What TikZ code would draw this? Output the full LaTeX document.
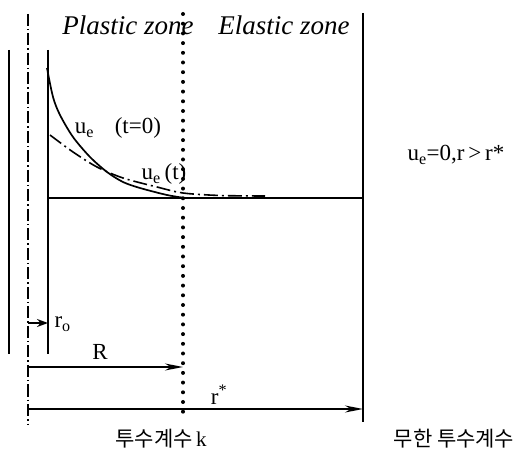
\documentclass[tikz,border=0pt]{standalone}
\usepackage{fontspec}
\setmainfont{Liberation Serif}
\newfontfamily\kfont{Noto Sans CJK KR}
\usetikzlibrary{arrows.meta}

\begin{document}
\begin{tikzpicture}[x=1pt,y=-1pt,>={Stealth[length=18pt,width=7pt]},font=\fontsize{23}{26}\selectfont]
        \useasboundingbox (0,0) rectangle (520,449);
        \tikzset{axisline/.style={line width=1.2pt,dash pattern=on 12pt off 3pt on 1.5pt off 3pt},
                 curveline/.style={line width=1.6pt,dash pattern=on 14pt off 4pt on 2pt off 4pt},
                 thick line/.style={line width=2pt},
                 dimline/.style={line width=1.5pt,->}}
        % axis, well walls and outer boundary
        \draw [axisline] (28,14) coordinate (top) -- (28,424) coordinate (bottom);
        \draw [thick line] (9,50) -- (9,354);
        \draw [thick line] (48,50) coordinate (wallT) -- (48,354) coordinate (wallB);
        \draw [line width=1.5pt] (363,13) coordinate (outerT) -- (363,422) coordinate (outerB);
        \draw [line width=1.5pt] (48,198) coordinate (base) -- (363,198);
        % plastic / elastic boundary
        \foreach \y in {14,23.7,...,412}
            \fill (183,\y) circle [radius=2pt];
        % displacement curves
        \draw [line width=1.7pt] plot [smooth] coordinates {(47,68) (53,97) (60,115) (73,137) (90,157) (107,172) (123,182) (140,188) (167,195) (185,198)};
        \draw [curveline] plot [smooth] coordinates {(50,135) (73,152) (97,167) (123,178) (157,187) (183,193) (220,195.5) (265,196)};
        \node (ue0) at (118,128) {u\textsubscript{e}\hspace{0.9em}(t=0)};
        \node (uet) at (164,174) {u\textsubscript{e}\,(t)};
        \node (plastic) at (128,25) {\fontsize{27}{30}\selectfont\itshape Plastic zone};
        \node (elastic) at (284,25) {\fontsize{27}{30}\selectfont\itshape Elastic zone};
        \node (cond) at (456,155) {u\textsubscript{e}=0,r\,>\,r*};
        % radii
        \coordinate (ro0) at (28,323);
        \coordinate (ro1) at (48,323);
        \coordinate (R0) at (28,367);
        \coordinate (R1) at (183,367);
        \coordinate (rs0) at (28,409);
        \coordinate (rs1) at (363,409);
        \draw [dimline,>={Stealth[length=11pt,width=8pt]}] (ro0) -- (ro1);
        \draw [dimline] (R0) -- (R1);
        \draw [dimline] (rs0) -- (rs1);
        \node [anchor=west] (ro) at (51,324) {r\textsubscript{o}};
        \node (Rlab) at (100,352) {R};
        \node (rslab) at (219,395) {r\textsuperscript{*}};
        \node (kin) at (161,439) {\fontsize{21}{24}\selectfont{\kfont 투수계수}\,k};
        \node (kout) at (454,439) {\fontsize{21}{24}\selectfont\kfont 무한 투수계수};
    \end{tikzpicture}
\end{document}
